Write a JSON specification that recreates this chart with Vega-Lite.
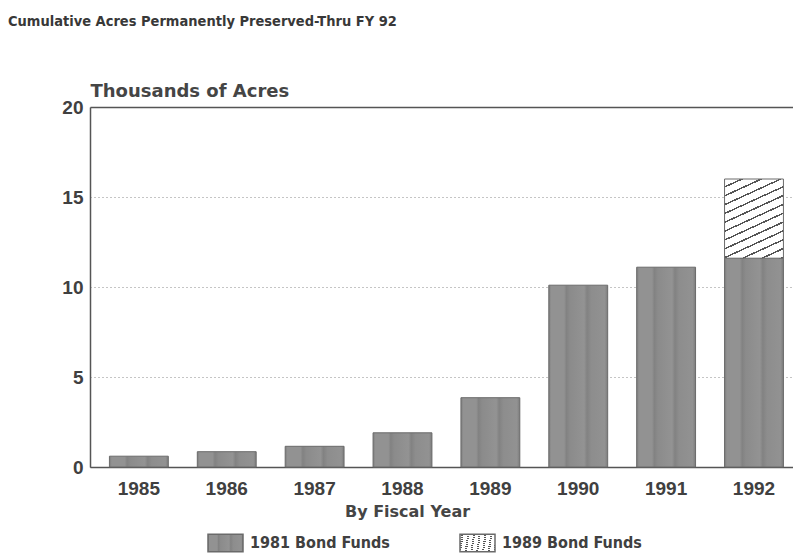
{
  "$schema": "https://vega.github.io/schema/vega-lite/v6.json",
  "width": 703,
  "height": 360,
  "autosize": {"type": "none"},
  "padding": {"left": 90, "top": 107, "right": 0, "bottom": 92},
  "background": "white",
  "title": {
    "text": "Cumulative Acres Permanently Preserved-Thru FY 92",
    "anchor": "start",
    "frame": "group",
    "dx": -82,
    "offset": 53,
    "font": "DejaVu Sans Condensed, Liberation Sans",
    "fontSize": 14.5,
    "fontWeight": "bold",
    "color": "#383838"
  },
  "data": {
    "values": [
      {"year": "1985", "fund": "1981 Bond Funds", "acres": 0.6},
      {"year": "1986", "fund": "1981 Bond Funds", "acres": 0.85},
      {"year": "1987", "fund": "1981 Bond Funds", "acres": 1.15},
      {"year": "1988", "fund": "1981 Bond Funds", "acres": 1.9},
      {"year": "1989", "fund": "1981 Bond Funds", "acres": 3.85},
      {"year": "1990", "fund": "1981 Bond Funds", "acres": 10.1},
      {"year": "1991", "fund": "1981 Bond Funds", "acres": 11.1},
      {"year": "1992", "fund": "1981 Bond Funds", "acres": 11.6},
      {"year": "1992", "fund": "1989 Bond Funds", "acres": 4.4}
    ]
  },
  "mark": {"type": "bar", "stroke": "#6a6a6a", "strokeWidth": 1},
  "encoding": {
    "x": {
      "field": "year",
      "type": "nominal",
      "scale": {"paddingInner": 0.33, "paddingOuter": 0.165, "align": 0.67},
      "axis": {
        "title": "By Fiscal Year",
        "labelAngle": 0,
        "labelPadding": 12,
        "labelFont": "Liberation Sans",
        "labelFontSize": 19,
        "labelFontWeight": "bold",
        "labelColor": "#404040",
        "ticks": false,
        "domainColor": "#555555",
        "domainWidth": 1.5,
        "titleFont": "DejaVu Sans",
        "titleFontSize": 16,
        "titleFontWeight": "bold",
        "titleColor": "#454545",
        "titleAnchor": "middle",
        "titleX": 317,
        "titleY": 49,
        "titleBaseline": "alphabetic"
      }
    },
    "y": {
      "field": "acres",
      "type": "quantitative",
      "stack": "zero",
      "scale": {"domain": [0, 20], "nice": false},
      "axis": {
        "title": "Thousands of Acres",
        "values": [0, 5, 10, 15, 20],
        "titleAngle": 0,
        "titleAlign": "left",
        "titleX": 0,
        "titleY": -11,
        "titleBaseline": "alphabetic",
        "titleFont": "DejaVu Sans",
        "titleFontSize": 18,
        "titleFontWeight": "bold",
        "titleColor": "#454545",
        "labelFont": "Liberation Sans",
        "labelFontSize": 19,
        "labelFontWeight": "bold",
        "labelColor": "#404040",
        "labelPadding": 7,
        "ticks": false,
        "domainColor": "#555555",
        "domainWidth": 1.5,
        "grid": true,
        "gridColor": {"condition": {"test": "datum.value === 20", "value": "#555555"}, "value": "#8a8a8a"},
        "gridDash": {"condition": {"test": "datum.value === 20", "value": []}, "value": [1, 3]},
        "gridWidth": {"condition": {"test": "datum.value === 20", "value": 1.5}, "value": 1}
      }
    },
    "fill": {
      "field": "fund",
      "type": "nominal",
      "scale": {
        "domain": ["1981 Bond Funds", "1989 Bond Funds"],
        "range": [
          {"expr": "{'gradient':'linear','x1':0,'y1':0,'x2':1,'y2':0,'stops':[{'offset':0,'color':'#7c7c7c'},{'offset':0.04,'color':'#929292'},{'offset':0.26,'color':'#929292'},{'offset':0.3,'color':'#828282'},{'offset':0.36,'color':'#8b8b8b'},{'offset':0.6,'color':'#939393'},{'offset':0.65,'color':'#828282'},{'offset':0.72,'color':'#8d8d8d'},{'offset':0.95,'color':'#929292'},{'offset':1,'color':'#7c7c7c'}]}"},
          {"expr": "{'gradient':'linear','x1':0,'y1':0,'x2':0.408,'y2':1.2,'stops':[{'offset':0,'color':'#fff'},{'offset':0.068,'color':'#fff'},{'offset':0.068,'color':'#555'},{'offset':0.083,'color':'#555'},{'offset':0.083,'color':'#fff'},{'offset':0.151,'color':'#fff'},{'offset':0.151,'color':'#555'},{'offset':0.167,'color':'#555'},{'offset':0.167,'color':'#fff'},{'offset':0.235,'color':'#fff'},{'offset':0.235,'color':'#555'},{'offset':0.25,'color':'#555'},{'offset':0.25,'color':'#fff'},{'offset':0.318,'color':'#fff'},{'offset':0.318,'color':'#555'},{'offset':0.333,'color':'#555'},{'offset':0.333,'color':'#fff'},{'offset':0.401,'color':'#fff'},{'offset':0.401,'color':'#555'},{'offset':0.417,'color':'#555'},{'offset':0.417,'color':'#fff'},{'offset':0.485,'color':'#fff'},{'offset':0.485,'color':'#555'},{'offset':0.5,'color':'#555'},{'offset':0.5,'color':'#fff'},{'offset':0.568,'color':'#fff'},{'offset':0.568,'color':'#555'},{'offset':0.583,'color':'#555'},{'offset':0.583,'color':'#fff'},{'offset':0.651,'color':'#fff'},{'offset':0.651,'color':'#555'},{'offset':0.667,'color':'#555'},{'offset':0.667,'color':'#fff'},{'offset':0.735,'color':'#fff'},{'offset':0.735,'color':'#555'},{'offset':0.75,'color':'#555'},{'offset':0.75,'color':'#fff'},{'offset':0.818,'color':'#fff'},{'offset':0.818,'color':'#555'},{'offset':0.833,'color':'#555'},{'offset':0.833,'color':'#fff'},{'offset':0.901,'color':'#fff'},{'offset':0.901,'color':'#555'},{'offset':0.917,'color':'#555'},{'offset':0.917,'color':'#fff'},{'offset':0.985,'color':'#fff'},{'offset':0.985,'color':'#555'},{'offset':1,'color':'#555'}]}"}
        ]
      },
      "legend": {
        "title": null,
        "orient": "none",
        "direction": "horizontal",
        "legendX": 117,
        "legendY": 417,
        "symbolType": "M-1,-0.5H1V0.5H-1Z",
        "symbolSize": 1225,
        "labelFont": "DejaVu Sans Condensed, Liberation Sans",
        "labelFontSize": 16,
        "labelFontWeight": "bold",
        "labelColor": "#404040",
        "labelOffset": 6,
        "columnPadding": 67,
        "labelLimit": 300,
        "encode": {
          "symbols": {
            "stroke": {"value": "#6a6a6a"},
            "strokeWidth": {"value": 1},
            "fill": {"signal": "datum.value === '1989 Bond Funds' ? {'gradient':'linear','x1':0,'y1':0,'x2':1,'y2':1,'stops':[{'offset':0,'color':'#fff'},{'offset':0.15,'color':'#fff'},{'offset':0.15,'color':'#555'},{'offset':0.185,'color':'#555'},{'offset':0.185,'color':'#fff'},{'offset':0.35,'color':'#fff'},{'offset':0.35,'color':'#555'},{'offset':0.385,'color':'#555'},{'offset':0.385,'color':'#fff'},{'offset':0.55,'color':'#fff'},{'offset':0.55,'color':'#555'},{'offset':0.585,'color':'#555'},{'offset':0.585,'color':'#fff'},{'offset':0.75,'color':'#fff'},{'offset':0.75,'color':'#555'},{'offset':0.785,'color':'#555'},{'offset':0.785,'color':'#fff'},{'offset':0.95,'color':'#fff'},{'offset':0.95,'color':'#555'},{'offset':0.985,'color':'#555'},{'offset':0.985,'color':'#fff'}]} : {'gradient':'linear','x1':0,'y1':0,'x2':1,'y2':0,'stops':[{'offset':0,'color':'#7c7c7c'},{'offset':0.04,'color':'#929292'},{'offset':0.55,'color':'#929292'},{'offset':0.6,'color':'#7e7e7e'},{'offset':0.68,'color':'#8b8b8b'},{'offset':0.95,'color':'#929292'},{'offset':1,'color':'#7c7c7c'}]}"}
          }
        }
      }
    },
    "order": {"field": "fund", "sort": "ascending"}
  }
}
